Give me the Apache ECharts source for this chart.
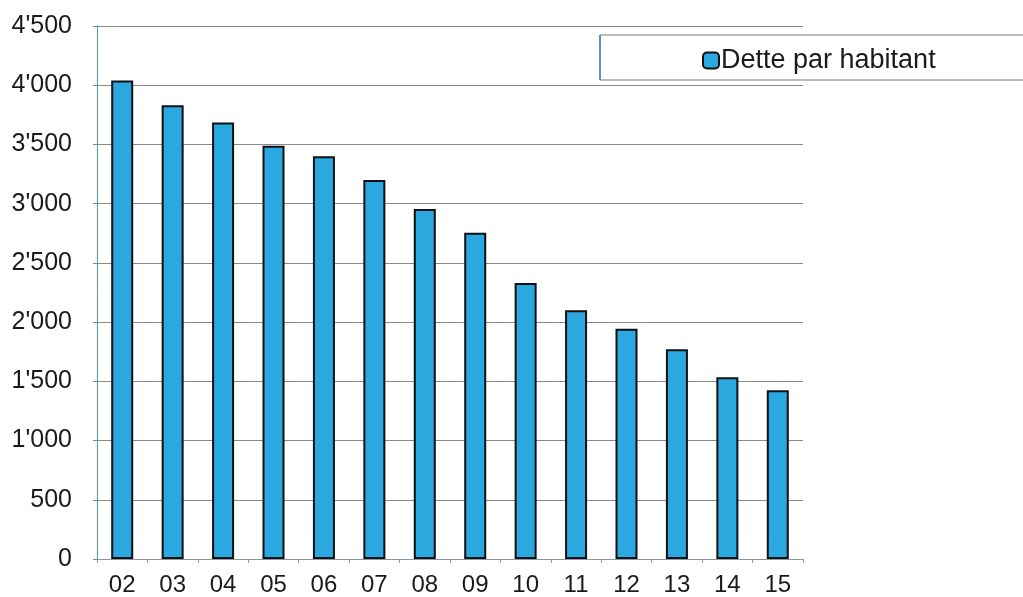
<!DOCTYPE html>
<html>
<head>
<meta charset="utf-8">
<script src="https://cdn.jsdelivr.net/npm/echarts@6/dist/echarts.min.js"></script>
<style>html,body{margin:0;padding:0;background:#fff;}#c{width:1023px;height:597px;}</style>
</head>
<body>
<div id="c"></div>
<script>
var categories = ['02','03','04','05','06','07','08','09','10','11','12','13','14','15'];
var detteParHabitant = [4040, 3830, 3685, 3490, 3400, 3200, 2955, 2755, 2330, 2100, 1945, 1770, 1535, 1425];
var seriesName = 'Dette par habitant';

function fmt(v){
  var s = String(Math.round(v));
  return s.replace(/\B(?=(\d{3})+(?!\d))/g, "'");
}

var chart = echarts.init(document.getElementById('c'), null, {renderer:'canvas'});
chart.setOption({
  backgroundColor: '#ffffff',
  animation: false,
  textStyle: {fontFamily: 'Liberation Sans, Arial, sans-serif'},
  grid: {left: 97, right: 220, top: 26, bottom: 37, containLabel: false},
  graphic: [{
    type: 'rect',
    shape: {x: 600, y: 35, width: 440, height: 45},
    style: {fill: '#ffffff', stroke: '#777777', lineWidth: 1},
    z: 1
  }, {
    type: 'line',
    shape: {x1: 600, y1: 35, x2: 600, y2: 80},
    style: {stroke: '#4a7fb5', lineWidth: 1.5},
    z: 2
  }],
  legend: {
    data: [seriesName],
    left: 697, top: 42,
    itemWidth: 16, itemHeight: 16, itemGap: 6,
    textStyle: {fontSize: 27, color: '#1a1a1a', fontFamily: 'Liberation Sans, Arial, sans-serif', padding: [0,0,0,-3]},
    z: 5
  },
  xAxis: {
    type: 'category',
    data: categories,
    axisLine: {show: true, lineStyle: {color: '#8896a8', width: 1}},
    axisTick: {show: true, length: 4, inside: false, lineStyle: {color: '#8896a8'}},
    axisLabel: {fontSize: 24, color: '#1a1a1a', margin: 14},
    splitLine: {show: false}
  },
  yAxis: {
    type: 'value',
    min: 0, max: 4500, interval: 500,
    axisLine: {show: true, lineStyle: {color: '#5b8fc0', width: 1}},
    axisTick: {show: true, length: 4, lineStyle: {color: '#5b8fc0'}},
    axisLabel: {fontSize: 25, color: '#1a1a1a', margin: 25, formatter: fmt},
    splitLine: {show: true, lineStyle: {color: '#8a8a8a', width: 1}}
  },
  series: [{
    name: seriesName,
    type: 'bar',
    data: detteParHabitant,
    barWidth: 22,
    itemStyle: {color: '#2aa8df', borderColor: '#111111', borderWidth: 2}
  }]
});
</script>
</body>
</html>
